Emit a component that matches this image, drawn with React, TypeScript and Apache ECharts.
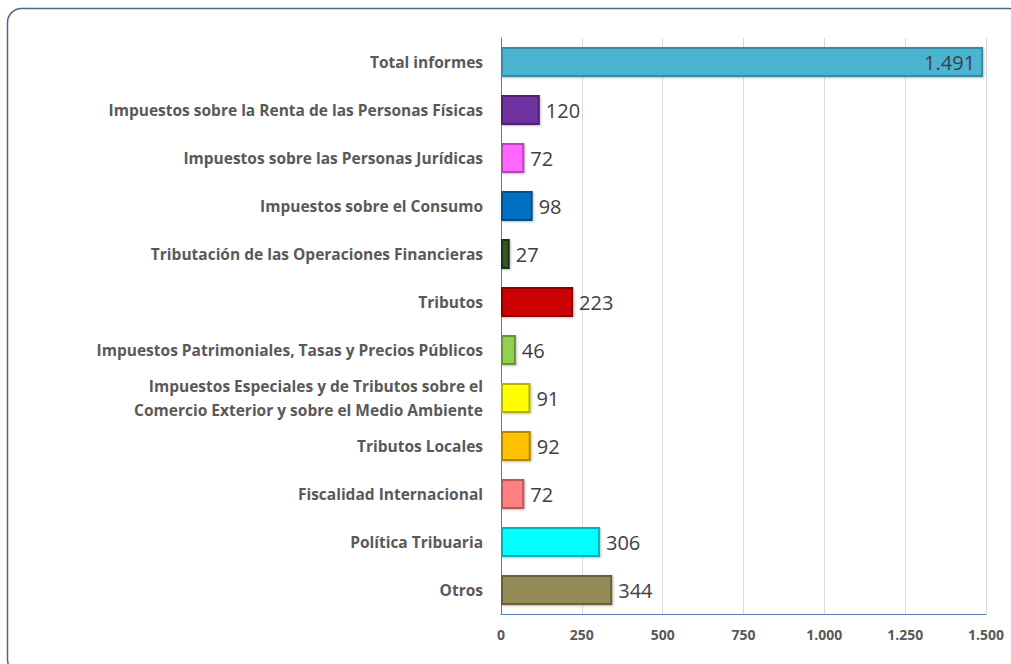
import React, { useEffect, useRef } from "react";
import * as echarts from "echarts";

const categories = [
  "Total informes",
  "Impuestos sobre la Renta de las Personas Físicas",
  "Impuestos sobre las Personas Jurídicas",
  "Impuestos sobre el Consumo",
  "Tributación de las Operaciones Financieras",
  "Tributos",
  "Impuestos Patrimoniales, Tasas y Precios Públicos",
  "Impuestos Especiales y de Tributos sobre el\nComercio Exterior y sobre el Medio Ambiente",
  "Tributos Locales",
  "Fiscalidad Internacional",
  "Política Tribuaria",
  "Otros",
];
const values = [1491, 120, 72, 98, 27, 223, 46, 91, 92, 72, 306, 344];
const colors = [
  "#4bb4d0", "#7030a0", "#ff66ff", "#0070c0", "#375623", "#cc0000",
  "#92d050", "#ffff00", "#ffc000", "#ff8080", "#00ffff", "#948a54",
];
const borders = [
  "#3a8aa0", "#4e2070", "#b347b3", "#004f87", "#1f3213", "#8e0000",
  "#66923a", "#b3b300", "#b38600", "#b35a5a", "#00b3b3", "#67603b",
];
const xTicks = [0, 250, 500, 750, 1000, 1250, 1500];

const fmt = (v: number) => {
  const s = String(Math.round(v));
  return s.replace(/\B(?=(\d{3})+(?!\d))/g, ".");
};

export default function App() {
  const ref = useRef<HTMLDivElement>(null);
  useEffect(() => {
    if (!ref.current) return;
    const chart = echarts.init(ref.current, null, { renderer: "svg" });
    chart.setOption({
      animation: false,
      backgroundColor: "#ffffff",
      graphic: [
        {
          type: "rect",
          shape: { x: 7.5, y: 8.5, width: 1015, height: 665, r: 14 },
          style: { fill: "none", stroke: "#4f6886", lineWidth: 1.5 },
          z: 0,
        },
      ],
      grid: { left: 501, right: 25, top: 38, bottom: 50, containLabel: false },
      xAxis: {
        type: "value",
        min: 0,
        max: xTicks[xTicks.length - 1],
        interval: 250,
        axisLine: { show: true, lineStyle: { color: "#4f81bd", width: 1 } },
        axisTick: { show: false },
        splitLine: { show: true, lineStyle: { color: "#d9d9d9" } },
        axisLabel: {
          color: "#595959",
          fontFamily: "Open Sans",
          fontWeight: "bold",
          fontSize: 14,
          margin: 13,
          formatter: (v: number) => fmt(v),
        },
      },
      yAxis: {
        type: "category",
        inverse: true,
        data: categories,
        axisLine: { show: true, lineStyle: { color: "#4f81bd", width: 1 } },
        axisTick: { show: false },
        axisLabel: {
          color: "#595959",
          fontFamily: "Open Sans",
          fontWeight: "bold",
          fontSize: 15.5,
          margin: 18,
          lineHeight: 24,
          align: "right",
        },
      },
      series: [
        {
          type: "bar",
          barWidth: 30,
          data: values.map((v, i) => ({
            value: v,
            itemStyle: {
              color: colors[i],
              borderColor: borders[i],
              borderWidth: 2,
              shadowColor: "rgba(0,0,0,0.25)",
              shadowBlur: 2,
              shadowOffsetX: 1,
              shadowOffsetY: 1,
            },
            label:
              i === 0
                ? {
                    show: true,
                    position: "insideRight",
                    distance: 8,
                  }
                : { show: true, position: "right", distance: 6 },
          })),
          label: {
            show: true,
            color: "#404040",
            fontFamily: "Open Sans",
            fontSize: 20,
            formatter: (p: any) => fmt(p.value),
          },
        },
      ],
    });
    return () => chart.dispose();
  }, []);
  return (
    <div
      ref={ref}
      style={{ position: "fixed", left: 0, top: 0, width: 1011, height: 664 }}
    />
  );
}
